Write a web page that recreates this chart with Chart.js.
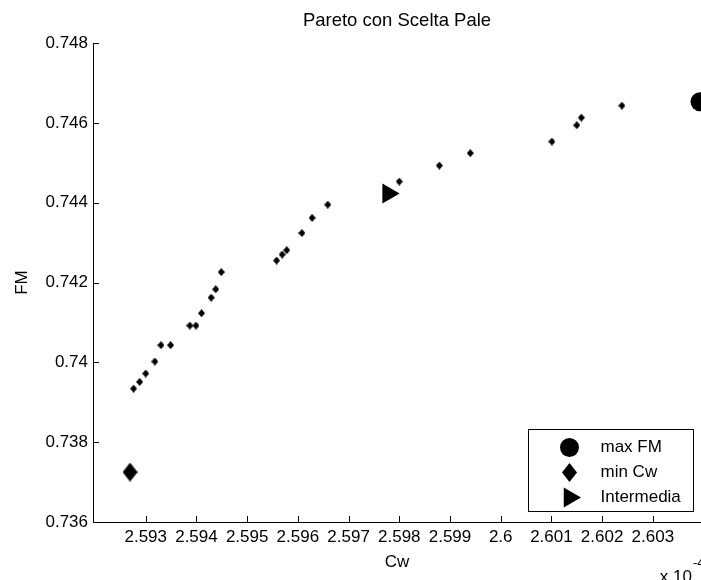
<!DOCTYPE html>
<html>
<head>
<meta charset="utf-8">
<script src="https://cdn.jsdelivr.net/npm/chart.js@4.4.1/dist/chart.umd.min.js"></script>
<style>
html, body { margin: 0; padding: 0; background: #fff; overflow: hidden; }
</style>
</head>
<body>
<canvas id="canvas" width="701" height="580"></canvas>
<script>
// Cw values are in units of 1e-4 (the axis shows "x 10^-4")
var cwPareto = [2.59276, 2.59288, 2.59300, 2.59318, 2.59330, 2.59349, 2.59387, 2.59399, 2.59410,
                2.59429, 2.59438, 2.59449, 2.59558, 2.59569, 2.59578, 2.59608, 2.59628, 2.59659,
                2.59800, 2.59879, 2.59940, 2.60101, 2.60150, 2.60159, 2.60239];
var fmPareto = [0.73934, 0.73951, 0.73972, 0.74002, 0.74043, 0.74043, 0.74092, 0.74092, 0.74123,
                0.74162, 0.74183, 0.74226, 0.74255, 0.74270, 0.74281, 0.74324, 0.74362, 0.74395,
                0.74453, 0.74493, 0.74524, 0.74553, 0.74594, 0.74613, 0.74643];

var cwMaxFM = [2.60393];
var fmMaxFM = [0.74653];
var cwMinCw = [2.59269];
var fmMinCw = [0.73725];
var cwInter = [2.59778];
var fmInter = [0.74423];

var legendLabels = ['max FM', 'min Cw', 'Intermedia'];

var xTicks = [2.593, 2.594, 2.595, 2.596, 2.597, 2.598, 2.599, 2.6, 2.601, 2.602, 2.603];
var yTicks = [0.736, 0.738, 0.74, 0.742, 0.744, 0.746, 0.748];
var xMin = 2.59196, xMax = 2.60395;
var yMin = 0.736, yMax = 0.748;

var titleText = 'Pareto con Scelta Pale';

var FONT = '"Liberation Sans", Arial, sans-serif';
var FSIZE = 17;

Chart.defaults.font.family = FONT;
Chart.defaults.font.size = FSIZE;
Chart.defaults.color = '#000';

function toPoints(xs, ys) {
    return xs.map(function (x, i) { return { x: x, y: ys[i] }; });
}

function diamond(w, h) {
    var c = document.createElement('canvas');
    c.width = w; c.height = h;
    var g = c.getContext('2d');
    g.fillStyle = '#000';
    g.beginPath();
    g.moveTo(w / 2, 0); g.lineTo(w, h / 2); g.lineTo(w / 2, h); g.lineTo(0, h / 2);
    g.closePath();
    g.fill();
    return c;
}

var smallDiamond = diamond(7, 8);
var bigDiamond = diamond(15, 19);

function fmt(v) {
    return String(Number(v.toFixed(3)));
}

// matlab style: title over the axes, inward ticks, exponent label, boxed legend
var matlabBits = {
    id: 'matlabBits',
    afterDraw: function (chart) {
        var ctx = chart.ctx;
        var ca = chart.chartArea;
        var xs = chart.scales.x, ys = chart.scales.y;
        ctx.save();
        ctx.strokeStyle = '#000';
        ctx.lineWidth = 1;
        ctx.beginPath();
        xTicks.forEach(function (v) {
            var px = Math.round(xs.getPixelForValue(v)) + 0.5;
            ctx.moveTo(px, ca.bottom);
            ctx.lineTo(px, ca.bottom - 6);
        });
        yTicks.forEach(function (v) {
            var py = Math.round(ys.getPixelForValue(v)) + 0.5;
            ctx.moveTo(ca.left, py);
            ctx.lineTo(ca.left + 6, py);
        });
        ctx.stroke();

        ctx.fillStyle = '#000';
        ctx.font = '18.5px ' + FONT;
        ctx.textAlign = 'center';
        ctx.textBaseline = 'middle';
        ctx.fillText(titleText, (ca.left + ca.right) / 2, ca.top - 22);

        // x 10^-4
        ctx.font = FSIZE + 'px ' + FONT;
        ctx.textAlign = 'right';
        ctx.fillText('x 10', ca.right - 9, ca.bottom + 55);
        ctx.font = Math.round(FSIZE * 0.75) + 'px ' + FONT;
        ctx.textAlign = 'left';
        ctx.fillText('-4', ca.right - 8, ca.bottom + 41);

        // legend
        var bx = Math.round(ca.right - 173) + 0.5;
        var by = Math.round(ca.bottom - 93) + 0.5;
        var bw = 165, bh = 82;
        ctx.fillStyle = '#fff';
        ctx.fillRect(bx, by, bw, bh);
        ctx.strokeRect(bx, by, bw, bh);
        ctx.font = FSIZE + 'px ' + FONT;
        ctx.textBaseline = 'middle';
        var rows = [18, 43, 68];
        for (var i = 1; i < chart.data.datasets.length; i++) {
            var ds = chart.data.datasets[i];
            var ry = by + rows[i - 1];
            ctx.fillStyle = '#000';
            Chart.helpers.drawPoint(ctx, {
                pointStyle: ds.pointStyle,
                radius: ds.pointRadius,
                rotation: ds.rotation || 0,
                borderWidth: 0
            }, bx + 41, ry);
            ctx.fillStyle = '#000';
            ctx.fillText(ds.label, bx + 72, ry);
        }
        ctx.restore();
    }
};

var config = {
    type: 'scatter',
    data: {
        datasets: [{
            label: 'Pareto',
            data: toPoints(cwPareto, fmPareto),
            pointStyle: smallDiamond,
            pointRadius: 4,
            backgroundColor: '#000',
            borderWidth: 0
        }, {
            label: legendLabels[0],
            data: toPoints(cwMaxFM, fmMaxFM),
            pointStyle: 'circle',
            pointRadius: 9.5,
            backgroundColor: '#000',
            borderWidth: 0
        }, {
            label: legendLabels[1],
            data: toPoints(cwMinCw, fmMinCw),
            pointStyle: bigDiamond,
            pointRadius: 9,
            backgroundColor: '#000',
            borderWidth: 0
        }, {
            label: legendLabels[2],
            data: toPoints(cwInter, fmInter),
            pointStyle: 'triangle',
            pointRadius: 11.5,
            rotation: 90,
            backgroundColor: '#000',
            borderWidth: 0
        }]
    },
    options: {
        responsive: false,
        animation: false,
        events: [],
        layout: { autoPadding: false, padding: { top: 43, right: 0, bottom: 0, left: 0 } },
        plugins: {
            legend: { display: false },
            tooltip: { enabled: false },
            title: { display: false }
        },
        scales: {
            x: {
                type: 'linear',
                min: xMin,
                max: xMax,
                afterBuildTicks: function (s) { s.ticks = xTicks.map(function (v) { return { value: v }; }); },
                afterFit: function (s) { s.height = 58; s.paddingLeft = 0; s.paddingRight = 0; },
                grid: { display: false, drawTicks: false },
                border: { display: true, color: '#000', width: 1 },
                ticks: { color: '#000', padding: 5, maxRotation: 0, autoSkip: false, callback: fmt },
                title: { display: true, text: 'Cw', color: '#000', padding: { top: 0, bottom: 7 } }
            },
            y: {
                type: 'linear',
                min: yMin,
                max: yMax,
                afterBuildTicks: function (s) { s.ticks = yTicks.map(function (v) { return { value: v }; }); },
                afterFit: function (s) { s.width = 93; s.paddingTop = 0; s.paddingBottom = 0; },
                grid: { display: false, drawTicks: false },
                border: { display: true, color: '#000', width: 1 },
                ticks: { color: '#000', padding: 5, autoSkip: false, callback: fmt },
                title: { display: true, text: 'FM', color: '#000', padding: { top: 12, bottom: 0 } }
            }
        }
    },
    plugins: [matlabBits]
};

var ctx = document.getElementById('canvas');
window.myChart = new Chart(ctx, config);
</script>
</body>
</html>
